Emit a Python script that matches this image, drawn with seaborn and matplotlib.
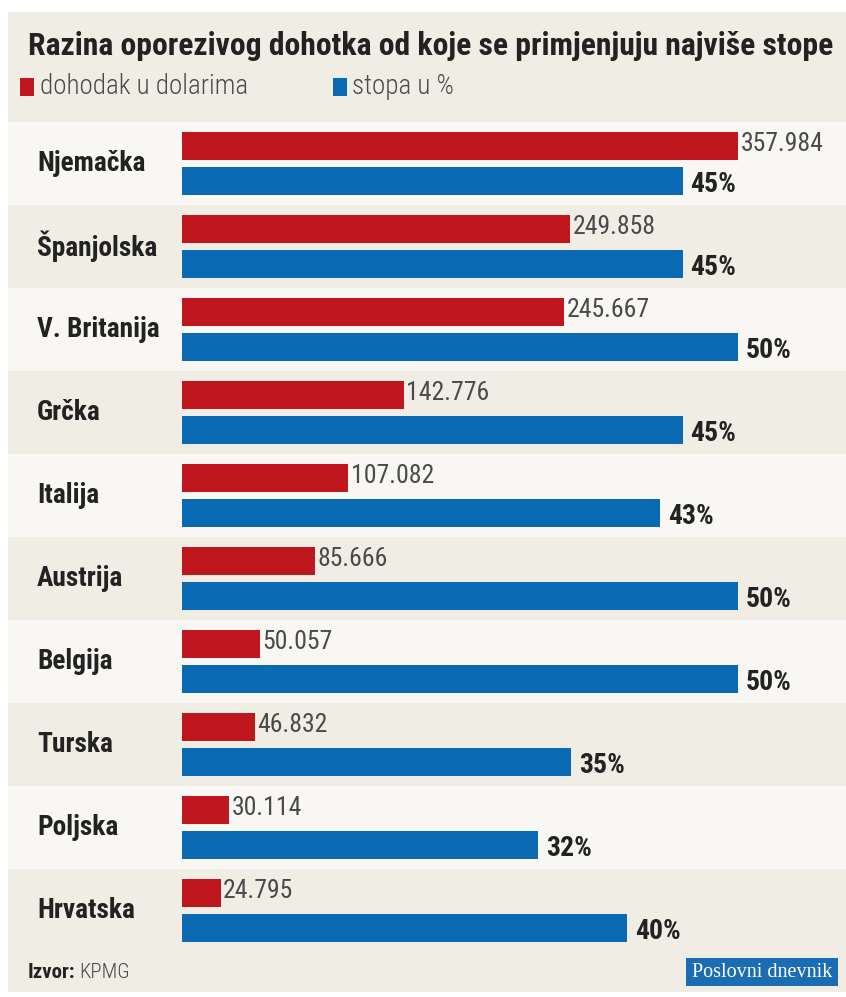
import matplotlib
matplotlib.use('Agg')
import matplotlib.pyplot as plt
import seaborn as sns
import pandas as pd
from matplotlib.patches import Rectangle


drzave = ['Njemačka', 'Španjolska', 'V. Britanija', 'Grčka', 'Italija',
          'Austrija', 'Belgija', 'Turska', 'Poljska', 'Hrvatska']
dohodak = [357984, 249858, 245667, 142776, 107082, 85666, 50057, 46832, 30114, 24795]
stopa = [45, 45, 50, 45, 43, 50, 50, 35, 32, 40]
serije = ['dohodak u dolarima', 'stopa u %']

CRVENA = '#c0161d'
PLAVA = '#0a69b3'
BEZ = '#efede4'
SVIJETLA = '#f8f7f3'
TEKST = '#222222'
SIVA = '#4a4a4a'

sns.set_theme(style='white')
plt.rcParams['font.family'] = ['Roboto Condensed', 'DejaVu Sans']

df_dohodak = pd.DataFrame({'drzava': drzave, 'vrijednost': dohodak, 'serija': serije[0]})
df_stopa = pd.DataFrame({'drzava': drzave, 'vrijednost': stopa, 'serija': serije[1]})

W, H = 846, 997
fig = plt.figure(figsize=(W / 100, H / 100), dpi=100)
fig.patch.set_facecolor('white')
fig.patches.append(Rectangle((8 / W, 0.005), 1, 0.983, transform=fig.transFigure,
                             facecolor=BEZ, edgecolor='none', zorder=-10))

ax = fig.add_axes([8 / W, (H - 952) / H, 838 / W, 830 / H])
ax.set_facecolor(BEZ)

for i in range(len(drzave)):
    ax.axhspan(i - 0.5, i + 0.5, color=SVIJETLA if i % 2 == 0 else BEZ, zorder=0, lw=0)

# skala: najdulja crvena traka jednako je duga kao traka od 50 %
udio_lijevo = 174 / 664
plavi_max = 59.7
crveni_max = max(dohodak) * plavi_max / 50

sns.barplot(data=df_stopa, y='drzava', x='vrijednost', hue='serija', hue_order=serije,
            palette=[CRVENA, PLAVA], dodge=True, width=0.84, gap=0.2, orient='h',
            legend=False, ax=ax, zorder=2, saturation=1, linewidth=0)

ax2 = ax.twiny()
sns.barplot(data=df_dohodak, y='drzava', x='vrijednost', hue='serija', hue_order=serije,
            palette=[CRVENA, PLAVA], dodge=True, width=0.84, gap=0.2, orient='h',
            legend=False, ax=ax2, zorder=2, saturation=1, linewidth=0)

ax.set_xlim(-plavi_max * udio_lijevo, plavi_max)
ax2.set_xlim(-crveni_max * udio_lijevo, crveni_max)
for a in (ax, ax2):
    a.set_ylim(len(drzave) - 0.5, -0.5)
    a.set_xticks([])
    a.set_yticks([])
    a.set_xlabel('')
    a.set_ylabel('')
    for s in a.spines.values():
        s.set_visible(False)

for i, (d, v, s) in enumerate(zip(drzave, dohodak, stopa)):
    ax.text(29 / 838, i, d, transform=ax.get_yaxis_transform(), ha='left', va='center',
            fontsize=19.7, fontweight='bold', color=TEKST)
    ax2.text(v + crveni_max * 0.004, i - 0.23, f'{v:,}'.replace(',', '.'), ha='left',
             va='center', fontsize=18.5, color=SIVA)
    ax.text(s + plavi_max * 0.012, i + 0.25, f'{s}%', ha='left', va='center',
            fontsize=20, fontweight='bold', color=TEKST)

fig.text(28 / W, 1 - 46 / H, 'Razina oporezivog dohotka od koje se primjenjuju najviše stope',
         ha='left', va='center', fontsize=22.8, fontweight='bold', color=TEKST)

fig.patches.append(Rectangle((20 / W, 1 - 96 / H), 14 / W, 18 / H, transform=fig.transFigure,
                             facecolor=CRVENA, edgecolor='none'))
fig.text(40 / W, 1 - 87 / H, serije[0], ha='left', va='center', fontsize=19.5,
         fontweight='light', color=SIVA)
fig.patches.append(Rectangle((333 / W, 1 - 96 / H), 14 / W, 18 / H, transform=fig.transFigure,
                             facecolor=PLAVA, edgecolor='none'))
fig.text(352 / W, 1 - 87 / H, serije[1], ha='left', va='center', fontsize=19.5,
         fontweight='light', color=SIVA)

izvor = fig.text(28 / W, 1 - 972 / H, 'Izvor:', ha='left', va='center', fontsize=15,
                 fontweight='bold', color=TEKST)
kraj = izvor.get_window_extent(fig.canvas.get_renderer()).x1
fig.text((kraj + 4) / W, 1 - 972 / H, 'KPMG', ha='left', va='center', fontsize=15,
         fontweight='light', color=SIVA)

fig.patches.append(Rectangle((686 / W, 1 - 986 / H), 152 / W, 28 / H, transform=fig.transFigure,
                             facecolor='#1a6db2', edgecolor='none'))
fig.text(762 / W, 1 - 972 / H, 'Poslovni dnevnik', ha='center', va='center', fontsize=14.5,
         color='white', family=['Liberation Serif', 'DejaVu Serif'])

fig.savefig('out.png', dpi=100, facecolor=fig.get_facecolor())
